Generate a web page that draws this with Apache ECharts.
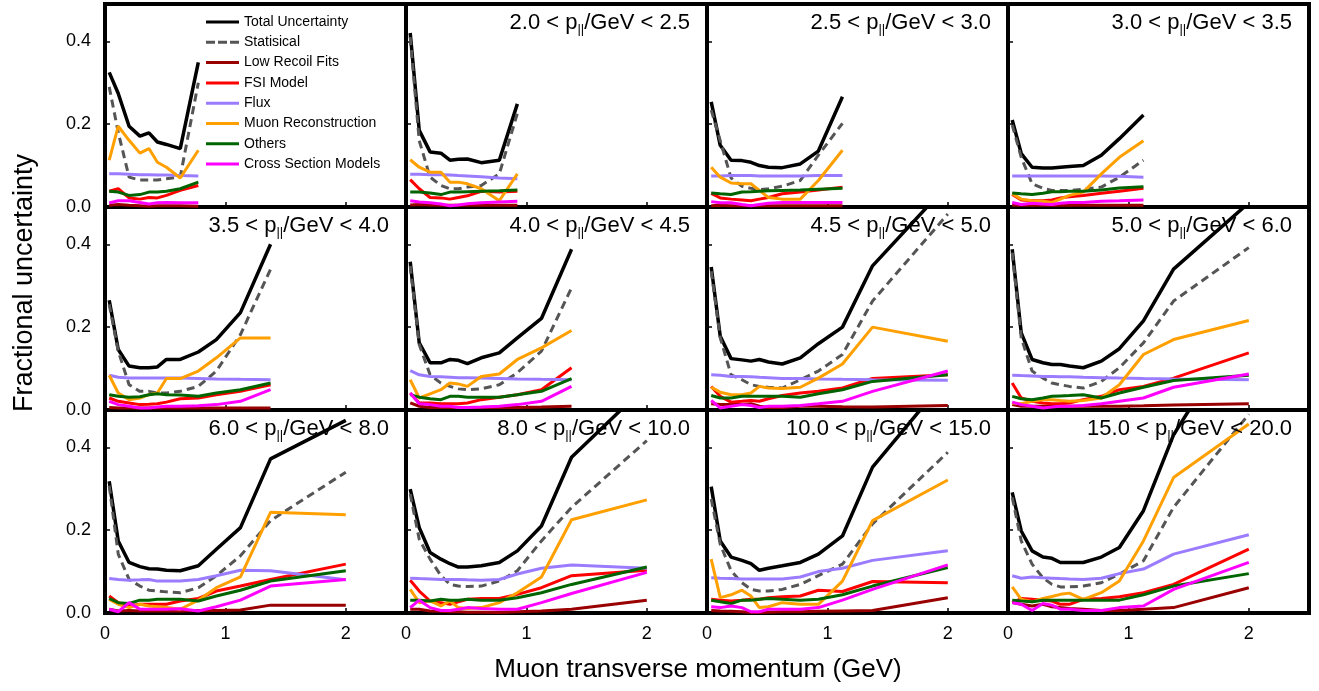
<!DOCTYPE html>
<html><head><meta charset="utf-8">
<script src="https://cdn.jsdelivr.net/npm/echarts@6/dist/echarts.min.js"></script>
<style>html,body{margin:0;padding:0;background:#fff}#c{width:1319px;height:691px}</style>
</head><body><div id="c"></div>
<script>
// Muon pT bin centres (GeV)
const PT = [0.035, 0.11, 0.2, 0.29, 0.365, 0.435, 0.51, 0.625, 0.775, 0.925, 1.125, 1.375, 2.0];
const NPTS = [9, 10, 11, 11, 12, 12, 13, 13, 13, 13, 13, 13];
const PLL_LO = [1.5, 2.0, 2.5, 3.0, 3.5, 4.0, 4.5, 5.0, 6.0, 8.0, 10.0, 15.0];
const PLL_HI = [2.0, 2.5, 3.0, 3.5, 4.0, 4.5, 5.0, 6.0, 8.0, 10.0, 15.0, 20.0];
const X_TICKS = [0, 1, 2];
const Y_TICKS = [0, 0.2, 0.4];
const NAMES = ['Total Uncertainty', 'Statisical', 'Low Recoil Fits', 'FSI Model', 'Flux', 'Muon Reconstruction', 'Others', 'Cross Section Models'];

const TOTAL = [
  [0.325, 0.274, 0.195, 0.171, 0.179, 0.157, 0.151, 0.141, 0.349],
  [0.420, 0.185, 0.133, 0.130, 0.113, 0.115, 0.116, 0.107, 0.113, 0.249],
  [0.254, 0.149, 0.113, 0.112, 0.108, 0.100, 0.096, 0.095, 0.104, 0.135, 0.266],
  [0.210, 0.129, 0.096, 0.094, 0.094, 0.096, 0.098, 0.100, 0.125, 0.165, 0.222],
  [0.265, 0.146, 0.106, 0.102, 0.102, 0.104, 0.122, 0.122, 0.140, 0.170, 0.235, 0.400],
  [0.358, 0.162, 0.114, 0.114, 0.122, 0.120, 0.112, 0.126, 0.138, 0.174, 0.221, 0.388],
  [0.345, 0.178, 0.124, 0.121, 0.118, 0.122, 0.116, 0.111, 0.126, 0.160, 0.200, 0.348, 0.544],
  [0.388, 0.186, 0.122, 0.114, 0.110, 0.110, 0.106, 0.102, 0.118, 0.148, 0.215, 0.340, 0.500],
  [0.318, 0.174, 0.122, 0.112, 0.107, 0.106, 0.103, 0.102, 0.114, 0.154, 0.206, 0.372, 0.465],
  [0.299, 0.206, 0.146, 0.130, 0.119, 0.111, 0.111, 0.114, 0.122, 0.150, 0.210, 0.376, 0.550],
  [0.305, 0.174, 0.135, 0.127, 0.119, 0.103, 0.108, 0.114, 0.122, 0.142, 0.186, 0.352, 0.570],
  [0.291, 0.198, 0.150, 0.135, 0.132, 0.122, 0.122, 0.122, 0.135, 0.158, 0.247, 0.430, 0.720]
];
const STAT = [
  [0.290, 0.180, 0.072, 0.065, 0.065, 0.065, 0.068, 0.073, 0.300],
  [0.410, 0.160, 0.072, 0.052, 0.044, 0.044, 0.048, 0.052, 0.080, 0.226],
  [0.234, 0.160, 0.070, 0.050, 0.045, 0.042, 0.044, 0.050, 0.064, 0.125, 0.202],
  [0.198, 0.120, 0.056, 0.045, 0.040, 0.040, 0.040, 0.043, 0.048, 0.072, 0.113],
  [0.255, 0.142, 0.061, 0.045, 0.045, 0.041, 0.041, 0.045, 0.057, 0.094, 0.182, 0.340],
  [0.348, 0.158, 0.085, 0.065, 0.057, 0.051, 0.049, 0.051, 0.061, 0.090, 0.142, 0.295],
  [0.335, 0.174, 0.085, 0.073, 0.061, 0.057, 0.055, 0.053, 0.073, 0.094, 0.134, 0.263, 0.473],
  [0.380, 0.174, 0.094, 0.077, 0.065, 0.061, 0.057, 0.053, 0.069, 0.102, 0.162, 0.263, 0.392],
  [0.307, 0.142, 0.081, 0.065, 0.055, 0.053, 0.051, 0.049, 0.061, 0.090, 0.138, 0.223, 0.340],
  [0.287, 0.178, 0.130, 0.090, 0.069, 0.065, 0.064, 0.065, 0.077, 0.102, 0.174, 0.255, 0.416],
  [0.275, 0.166, 0.102, 0.073, 0.057, 0.053, 0.053, 0.057, 0.069, 0.090, 0.118, 0.215, 0.388],
  [0.279, 0.174, 0.118, 0.085, 0.069, 0.063, 0.063, 0.065, 0.073, 0.094, 0.126, 0.255, 0.480]
];
const LOWRECOIL = [
  [0.004, 0.006, 0.004, 0.003, 0.002, 0.003, 0.003, 0.003, 0.002],
  [0.005, 0.006, 0.005, 0.004, 0.004, 0.004, 0.004, 0.004, 0.004, 0.004],
  [0.003, 0.004, 0.003, 0.003, 0.003, 0.003, 0.003, 0.003, 0.003, 0.003, 0.003],
  [0.004, 0.004, 0.004, 0.004, 0.004, 0.004, 0.004, 0.004, 0.004, 0.004, 0.004],
  [0.006, 0.005, 0.005, 0.005, 0.005, 0.005, 0.005, 0.005, 0.005, 0.005, 0.005, 0.005],
  [0.017, 0.009, 0.006, 0.006, 0.006, 0.006, 0.006, 0.006, 0.006, 0.006, 0.007, 0.009],
  [0.015, 0.013, 0.013, 0.013, 0.015, 0.009, 0.006, 0.006, 0.009, 0.009, 0.008, 0.007, 0.011],
  [0.013, 0.009, 0.009, 0.009, 0.009, 0.009, 0.009, 0.009, 0.009, 0.009, 0.010, 0.012, 0.015],
  [0.009, 0.005, 0.006, 0.005, 0.005, 0.005, 0.005, 0.005, 0.006, 0.006, 0.007, 0.019, 0.019],
  [0.009, 0.009, 0.005, 0.004, 0.003, 0.003, 0.002, 0.002, 0.001, 0.003, 0.005, 0.009, 0.031],
  [0.006, 0.005, 0.004, 0.003, 0.001, 0.001, 0.002, 0.003, 0.003, 0.004, 0.005, 0.006, 0.037],
  [0.025, 0.021, 0.017, 0.021, 0.015, 0.013, 0.011, 0.009, 0.006, 0.006, 0.009, 0.013, 0.061]
];
const FSI = [
  [0.038, 0.044, 0.022, 0.019, 0.023, 0.022, 0.028, 0.040, 0.052],
  [0.066, 0.044, 0.023, 0.022, 0.019, 0.023, 0.027, 0.038, 0.036, 0.038],
  [0.033, 0.022, 0.019, 0.017, 0.015, 0.019, 0.023, 0.032, 0.036, 0.041, 0.048],
  [0.030, 0.017, 0.015, 0.015, 0.017, 0.022, 0.025, 0.028, 0.033, 0.038, 0.045],
  [0.029, 0.021, 0.017, 0.013, 0.014, 0.015, 0.019, 0.027, 0.029, 0.037, 0.045, 0.061],
  [0.041, 0.017, 0.017, 0.015, 0.015, 0.015, 0.017, 0.025, 0.031, 0.037, 0.049, 0.102],
  [0.057, 0.033, 0.019, 0.021, 0.023, 0.021, 0.027, 0.035, 0.041, 0.045, 0.053, 0.076, 0.085],
  [0.065, 0.029, 0.021, 0.017, 0.015, 0.015, 0.017, 0.025, 0.033, 0.049, 0.057, 0.077, 0.138],
  [0.041, 0.025, 0.017, 0.021, 0.021, 0.021, 0.021, 0.029, 0.035, 0.053, 0.065, 0.081, 0.118],
  [0.079, 0.053, 0.029, 0.025, 0.021, 0.027, 0.033, 0.035, 0.035, 0.045, 0.061, 0.090, 0.103],
  [0.033, 0.031, 0.029, 0.031, 0.033, 0.033, 0.037, 0.039, 0.041, 0.055, 0.052, 0.076, 0.073],
  [0.025, 0.035, 0.033, 0.031, 0.029, 0.021, 0.021, 0.033, 0.035, 0.039, 0.049, 0.069, 0.154]
];
const FLUX = [
  [0.080, 0.080, 0.079, 0.078, 0.078, 0.077, 0.077, 0.076, 0.075],
  [0.079, 0.079, 0.078, 0.078, 0.077, 0.076, 0.075, 0.073, 0.070, 0.068],
  [0.075, 0.075, 0.076, 0.076, 0.076, 0.075, 0.075, 0.075, 0.075, 0.076, 0.076],
  [0.075, 0.075, 0.075, 0.075, 0.075, 0.075, 0.075, 0.075, 0.075, 0.074, 0.072],
  [0.084, 0.079, 0.077, 0.077, 0.077, 0.077, 0.077, 0.077, 0.076, 0.075, 0.074, 0.073],
  [0.095, 0.085, 0.081, 0.080, 0.079, 0.078, 0.078, 0.077, 0.076, 0.075, 0.074, 0.073],
  [0.085, 0.084, 0.081, 0.081, 0.080, 0.079, 0.078, 0.076, 0.076, 0.075, 0.074, 0.073, 0.072],
  [0.084, 0.083, 0.082, 0.081, 0.081, 0.080, 0.080, 0.079, 0.078, 0.077, 0.076, 0.075, 0.073],
  [0.083, 0.081, 0.079, 0.080, 0.081, 0.077, 0.077, 0.077, 0.081, 0.090, 0.103, 0.102, 0.080],
  [0.084, 0.083, 0.082, 0.081, 0.081, 0.081, 0.080, 0.079, 0.081, 0.094, 0.108, 0.116, 0.108],
  [0.085, 0.084, 0.083, 0.082, 0.082, 0.082, 0.082, 0.082, 0.087, 0.100, 0.108, 0.127, 0.150],
  [0.090, 0.084, 0.087, 0.085, 0.084, 0.083, 0.082, 0.081, 0.084, 0.095, 0.106, 0.142, 0.189]
];
const MUON = [
  [0.113, 0.195, 0.161, 0.130, 0.141, 0.108, 0.096, 0.070, 0.137],
  [0.114, 0.096, 0.084, 0.084, 0.060, 0.060, 0.056, 0.044, 0.015, 0.080],
  [0.096, 0.072, 0.058, 0.056, 0.056, 0.040, 0.023, 0.019, 0.019, 0.064, 0.137],
  [0.032, 0.019, 0.015, 0.014, 0.011, 0.019, 0.028, 0.036, 0.080, 0.120, 0.160],
  [0.084, 0.041, 0.025, 0.029, 0.037, 0.041, 0.076, 0.076, 0.094, 0.126, 0.174, 0.174],
  [0.073, 0.029, 0.039, 0.049, 0.065, 0.063, 0.057, 0.081, 0.087, 0.122, 0.150, 0.192],
  [0.055, 0.043, 0.037, 0.037, 0.041, 0.057, 0.053, 0.052, 0.055, 0.077, 0.111, 0.200, 0.166],
  [0.017, 0.015, 0.021, 0.025, 0.025, 0.023, 0.021, 0.023, 0.029, 0.061, 0.134, 0.170, 0.216],
  [0.033, 0.021, 0.013, 0.021, 0.017, 0.015, 0.013, 0.009, 0.031, 0.061, 0.087, 0.243, 0.237],
  [0.057, 0.025, 0.029, 0.017, 0.029, 0.013, 0.011, 0.013, 0.025, 0.049, 0.087, 0.225, 0.273],
  [0.130, 0.037, 0.044, 0.055, 0.041, 0.013, 0.015, 0.025, 0.021, 0.021, 0.077, 0.223, 0.321],
  [0.063, 0.033, 0.027, 0.035, 0.040, 0.045, 0.048, 0.033, 0.049, 0.077, 0.174, 0.327, 0.456]
];
const OTHERS = [
  [0.038, 0.036, 0.028, 0.030, 0.036, 0.036, 0.038, 0.044, 0.060],
  [0.036, 0.036, 0.034, 0.030, 0.036, 0.036, 0.037, 0.038, 0.039, 0.041],
  [0.034, 0.032, 0.030, 0.036, 0.037, 0.038, 0.039, 0.040, 0.041, 0.043, 0.045],
  [0.034, 0.032, 0.030, 0.033, 0.037, 0.037, 0.038, 0.038, 0.041, 0.046, 0.049],
  [0.037, 0.033, 0.031, 0.032, 0.037, 0.039, 0.037, 0.036, 0.033, 0.041, 0.049, 0.065],
  [0.037, 0.031, 0.027, 0.025, 0.033, 0.033, 0.031, 0.031, 0.031, 0.037, 0.045, 0.076],
  [0.035, 0.029, 0.029, 0.033, 0.033, 0.033, 0.033, 0.033, 0.031, 0.039, 0.049, 0.069, 0.085],
  [0.033, 0.027, 0.025, 0.029, 0.033, 0.034, 0.035, 0.037, 0.029, 0.041, 0.055, 0.071, 0.084],
  [0.035, 0.025, 0.023, 0.031, 0.031, 0.033, 0.033, 0.033, 0.029, 0.041, 0.055, 0.077, 0.102],
  [0.031, 0.031, 0.029, 0.033, 0.031, 0.031, 0.033, 0.031, 0.031, 0.037, 0.049, 0.069, 0.111],
  [0.031, 0.027, 0.023, 0.031, 0.031, 0.033, 0.035, 0.033, 0.031, 0.033, 0.044, 0.065, 0.110],
  [0.031, 0.029, 0.027, 0.031, 0.031, 0.031, 0.031, 0.031, 0.031, 0.031, 0.044, 0.065, 0.095]
];
const XSEC = [
  [0.010, 0.015, 0.015, 0.011, 0.007, 0.010, 0.011, 0.010, 0.010],
  [0.015, 0.012, 0.010, 0.007, 0.003, 0.005, 0.008, 0.010, 0.012, 0.014],
  [0.013, 0.010, 0.010, 0.006, 0.003, 0.006, 0.009, 0.011, 0.011, 0.011, 0.011],
  [0.011, 0.006, 0.009, 0.007, 0.006, 0.009, 0.011, 0.011, 0.014, 0.015, 0.017],
  [0.021, 0.013, 0.009, 0.005, 0.005, 0.007, 0.009, 0.009, 0.010, 0.013, 0.021, 0.049],
  [0.041, 0.015, 0.013, 0.009, 0.009, 0.006, 0.006, 0.007, 0.009, 0.013, 0.021, 0.057],
  [0.023, 0.005, 0.009, 0.013, 0.011, 0.006, 0.009, 0.009, 0.011, 0.015, 0.021, 0.045, 0.094],
  [0.019, 0.013, 0.009, 0.005, 0.007, 0.009, 0.009, 0.011, 0.015, 0.021, 0.029, 0.055, 0.087],
  [0.009, 0.003, 0.025, 0.009, 0.009, 0.009, 0.009, 0.010, 0.005, 0.015, 0.031, 0.065, 0.081],
  [0.013, 0.031, 0.013, 0.006, 0.006, 0.009, 0.013, 0.011, 0.009, 0.009, 0.025, 0.047, 0.098],
  [0.015, 0.013, 0.017, 0.013, 0.003, 0.003, 0.009, 0.009, 0.009, 0.013, 0.031, 0.057, 0.116],
  [0.025, 0.021, 0.006, 0.023, 0.019, 0.009, 0.009, 0.006, 0.006, 0.013, 0.017, 0.057, 0.122]
];

const FONT = '"Liberation Sans", Arial, Helvetica, sans-serif';
const LEFTS = [105, 406, 707, 1008];
const TOPS = [4, 207, 410];
const W = 301, H = 203;
const SOLID_ICON = 'path://M0,0h33v3h-33z';
const DASH_ICON = 'path://M0,0h9v3h-9zM12,0h9v3h-9zM24,0h9v3h-9z';

const COMPONENTS = [
  { data: TOTAL, color: '#000000', type: 'solid', width: 3.5 },
  { data: STAT, color: '#555555', type: [8, 5], width: 3 },
  { data: LOWRECOIL, color: '#990000', type: 'solid', width: 3 },
  { data: FSI, color: '#ff0000', type: 'solid', width: 3 },
  { data: FLUX, color: '#9b7cff', type: 'solid', width: 3 },
  { data: MUON, color: '#ffa000', type: 'solid', width: 3 },
  { data: OTHERS, color: '#006400', type: 'solid', width: 3 },
  { data: XSEC, color: '#ff00ff', type: 'solid', width: 3 }
];

const grids = [], xAxes = [], yAxes = [], series = [], titles = [];
for (let p = 0; p < 12; p++) {
  const r = Math.floor(p / 4), c = p % 4;
  grids.push({ left: LEFTS[c], top: TOPS[r], width: W, height: H, show: true,
    borderColor: '#000', borderWidth: 4, backgroundColor: 'transparent' });
  xAxes.push({ type: 'value', gridIndex: p, min: 0, max: 2.5, interval: 1,
    axisLine: { show: false }, splitLine: { show: false },
    axisTick: { show: true, inside: true, length: 5, lineStyle: { color: '#000', width: 1.5 } },
    axisLabel: { show: r === 2, margin: 12, fontSize: 18, color: '#000', fontFamily: FONT,
      formatter: v => X_TICKS.some(t => Math.abs(t - v) < 1e-9) ? String(v) : '' } });
  yAxes.push({ type: 'value', gridIndex: p, min: 0, max: 0.49, interval: 0.2,
    axisLine: { show: false }, splitLine: { show: false },
    axisTick: { show: true, inside: true, length: 5, lineStyle: { color: '#000', width: 1.5 } },
    axisLabel: { show: c === 0, margin: 14, fontSize: 18, color: '#000', fontFamily: FONT,
      formatter: v => Y_TICKS.some(t => Math.abs(t - v) < 1e-9) ? v.toFixed(1) : '' } });
  COMPONENTS.forEach((comp, k) => {
    const vals = comp.data[p];
    series.push({ type: 'line', name: NAMES[k], xAxisIndex: p, yAxisIndex: p,
      data: PT.slice(0, NPTS[p]).map((x, j) => [x, vals[j]]),
      symbol: 'none', showSymbol: false, clip: true, silent: true, animation: false,
      lineStyle: { color: comp.color, width: comp.width, type: comp.type },
      itemStyle: { color: comp.color } });
  });
  if (p > 0) {
    titles.push({
      text: '{a|' + PLL_LO[p].toFixed(1) + ' < p}{s|||}{a|/GeV < ' + PLL_HI[p].toFixed(1) + '}',
      right: 1319 - (LEFTS[c] + W) + 17, top: TOPS[r] + 8, padding: 0,
      textStyle: { fontWeight: 'normal', rich: {
        a: { fontSize: 22, fontWeight: 'normal', fontFamily: FONT, color: '#000', lineHeight: 24,
             padding: [0, 0, 14, 0], verticalAlign: 'top' },
        s: { fontSize: 13, fontWeight: 'normal', fontFamily: FONT, color: '#000', lineHeight: 14,
             verticalAlign: 'bottom' }
      } }
    });
  }
}

const chart = echarts.init(document.getElementById('c'), null, { renderer: 'canvas' });
chart.setOption({
  backgroundColor: '#ffffff',
  animation: false,
  title: titles,
  legend: { show: true, orient: 'vertical', left: 206, top: 15, padding: 0,
    itemWidth: 33, itemHeight: 3, itemGap: 6.3, selectedMode: false,
    data: NAMES.map((n, k) => ({ name: n, icon: k === 1 ? DASH_ICON : SOLID_ICON })),
    textStyle: { fontSize: 14, fontFamily: FONT, color: '#000', lineHeight: 14 } },
  grid: grids, xAxis: xAxes, yAxis: yAxes, series: series,
  graphic: [
    { type: 'text', x: 25, y: 283, rotation: Math.PI / 2,
      style: { text: 'Fractional uncertainty', font: '27px ' + FONT, fill: '#000', align: 'center', verticalAlign: 'middle' } },
    { type: 'text', x: 698, y: 670,
      style: { text: 'Muon transverse momentum (GeV)', font: '26px ' + FONT, fill: '#000', align: 'center', verticalAlign: 'middle' } }
  ]
});
</script>
</body></html>
